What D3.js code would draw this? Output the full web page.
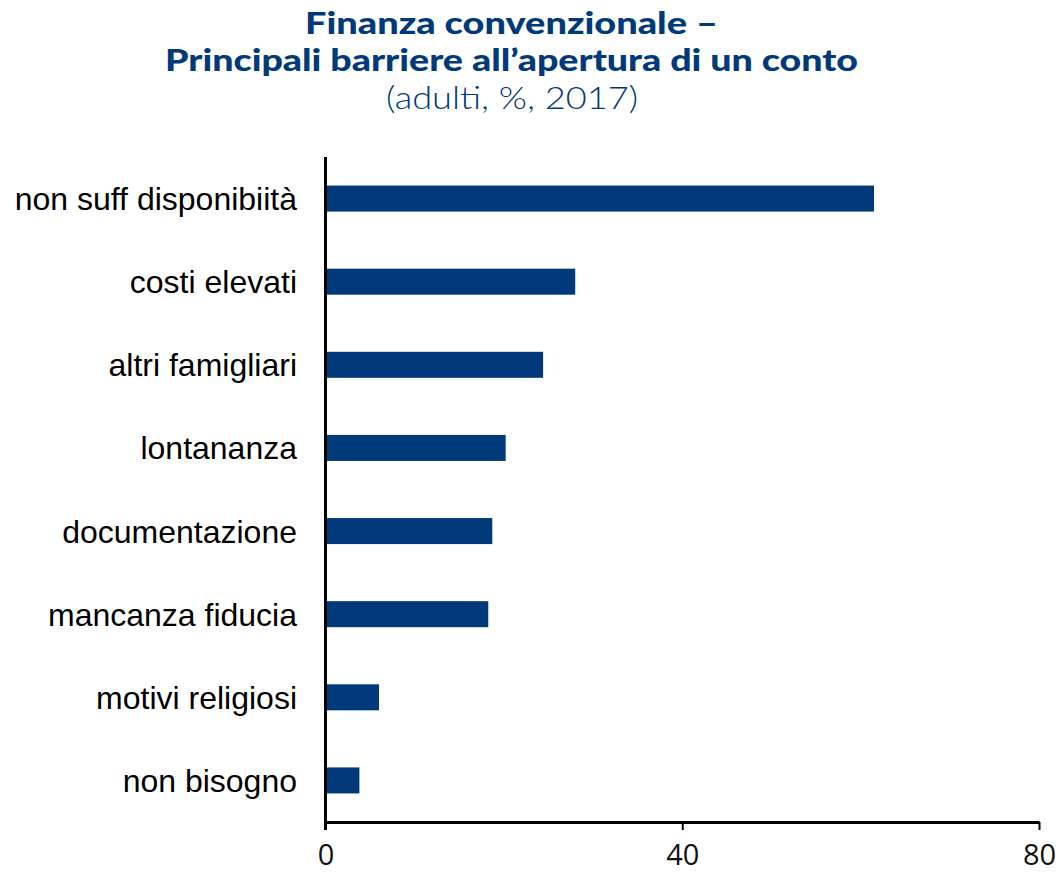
<!DOCTYPE html>
<html>
<head>
<meta charset="utf-8">
<script src="https://cdn.jsdelivr.net/npm/d3@7"></script>
<style>
  body { margin: 0; background: #fff; }
  svg { display: block; }
</style>
</head>
<body>
<svg id="chart" width="1059" height="873"></svg>
<script>
// Barriers to opening an account (adults, %, 2017)
const categories = [
  "non suff disponibiità",
  "costi elevati",
  "altri famigliari",
  "lontananza",
  "documentazione",
  "mancanza fiducia",
  "motivi religiosi",
  "non bisogno"
];
const values = [61.5, 28, 24.4, 20.2, 18.7, 18.25, 6.0, 3.8];
const xTicks = [0, 40, 80];
const titleLines = ["Finanza convenzionale –", "Principali barriere all’apertura di un conto"];
const subtitle = "(adulti, %, 2017)";

const navy = "#003a7a";
const svg = d3.select("#chart");

const x = d3.scaleLinear().domain([0, 80]).range([325.5, 1039]);
const y = d3.scaleBand().domain(categories).range([157, 822])
  .paddingInner(0.687).paddingOuter(0.3435);

// Title: two bold lines plus a light subtitle, stretched to a wide geometric look
const title = svg.append("g")
  .attr("font-family", "Lato, 'DejaVu Sans', sans-serif")
  .attr("fill", navy)
  .attr("text-anchor", "middle");
const titleWidths = [413, 693];
title.selectAll("text.t").data(titleLines).join("text")
  .attr("class", "t")
  .attr("x", 511.5)
  .attr("y", (d, i) => 33.5 + i * 37)
  .attr("font-size", 30)
  .attr("font-weight", 900)
  .attr("textLength", (d, i) => titleWidths[i])
  .attr("lengthAdjust", "spacingAndGlyphs")
  .text(d => d);
title.append("text")
  .attr("x", 512)
  .attr("y", 109)
  .attr("font-size", 31)
  .attr("font-weight", 300)
  .attr("textLength", 252)
  .attr("lengthAdjust", "spacingAndGlyphs")
  .text(subtitle);

// Bars
svg.append("g").selectAll("rect").data(values).join("rect")
  .attr("x", x(0))
  .attr("y", (d, i) => y(categories[i]))
  .attr("width", d => x(d) - x(0))
  .attr("height", y.bandwidth())
  .attr("fill", navy);

// Category labels
svg.append("g").selectAll("text").data(categories).join("text")
  .attr("x", 297)
  .attr("y", d => y(d) + y.bandwidth() / 2)
  .attr("dy", "0.36em")
  .attr("text-anchor", "end")
  .attr("font-family", "'Liberation Sans', Arial, sans-serif")
  .attr("font-size", 32)
  .attr("fill", "#000")
  .text(d => d);

// Vertical category axis line
svg.append("line")
  .attr("x1", x(0)).attr("x2", x(0))
  .attr("y1", 157).attr("y2", 830)
  .attr("stroke", "#000").attr("stroke-width", 3);

// Value axis
const xAxis = svg.append("g")
  .attr("transform", "translate(0,822)")
  .call(d3.axisBottom(x).tickValues(xTicks).tickSize(8).tickSizeOuter(0).tickPadding(14));
xAxis.select(".domain").attr("stroke", "#000").attr("stroke-width", 3);
xAxis.selectAll(".tick line").attr("stroke", "#000").attr("stroke-width", 2);
xAxis.selectAll(".tick text")
  .attr("font-family", "'Open Sans', 'Liberation Sans', sans-serif")
  .attr("font-size", 29)
  .attr("fill", "#111");
</script>
</body>
</html>
